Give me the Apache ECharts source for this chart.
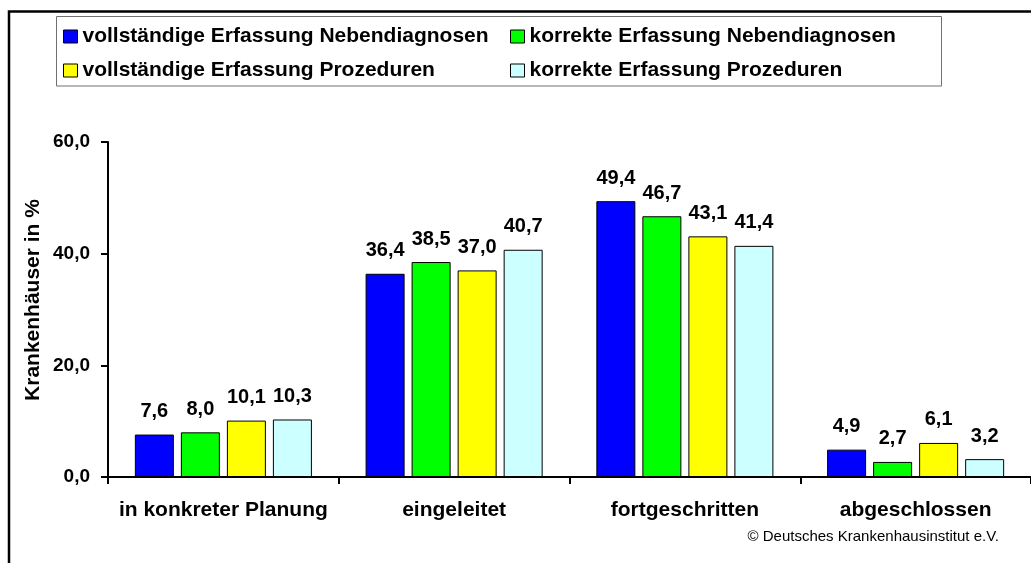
<!DOCTYPE html>
<html>
<head>
<meta charset="utf-8">
<script src="https://cdn.jsdelivr.net/npm/echarts@6/dist/echarts.min.js"></script>
<style>
  html, body { margin: 0; padding: 0; background: #fff; }
  #chart { width: 1031px; height: 563px; }
</style>
</head>
<body>
<div id="chart"></div>
<script>
// Stand der Umsetzung, Anteil der Krankenhäuser in %
const categories = ['in konkreter Planung', 'eingeleitet', 'fortgeschritten', 'abgeschlossen'];
const seriesNames = [
  'vollständige Erfassung Nebendiagnosen',
  'korrekte Erfassung Nebendiagnosen',
  'vollständige Erfassung Prozeduren',
  'korrekte Erfassung Prozeduren'
];
const vollNebendiagnosen = [7.6, 36.4, 49.4, 4.9];
const korrektNebendiagnosen = [8.0, 38.5, 46.7, 2.7];
const vollProzeduren = [10.1, 37.0, 43.1, 6.1];
const korrektProzeduren = [10.3, 40.7, 41.4, 3.2];
const yTicks = [0, 20, 40, 60];
const yTitle = 'Krankenhäuser in %';

const colors = ['#0000FF', '#00FF00', '#FFFF00', '#CCFFFF'];
const FONT = 'Liberation Sans, Arial, sans-serif';
const fmt = v => v.toFixed(1).replace('.', ',');

const values = [vollNebendiagnosen, korrektNebendiagnosen, vollProzeduren, korrektProzeduren];

const chart = echarts.init(document.getElementById('chart'), null, { renderer: 'canvas' });

const series = values.map((data, i) => ({
  name: seriesNames[i],
  type: 'bar',
  data: data,
  barWidth: 39,
  barGap: '18%',
  itemStyle: { color: colors[i], borderColor: '#000', borderWidth: 1 },
  label: {
    show: true,
    position: 'top',
    distance: 13,
    formatter: p => fmt(p.value),
    fontFamily: FONT,
    fontWeight: 'bold',
    fontSize: 20,
    color: '#000'
  },
  emphasis: { disabled: true }
}));

const legendText = { fontFamily: FONT, fontWeight: 'bold', fontSize: 21, color: '#000' };
const legendCommon = {
  orient: 'vertical',
  top: 26,
  icon: 'rect',
  itemWidth: 14,
  itemHeight: 13,
  itemGap: 13,
  padding: 0,
  textStyle: legendText,
  selectedMode: false,
  itemStyle: { borderColor: '#000', borderWidth: 1 }
};

chart.setOption({
  animation: false,
  backgroundColor: '#fff',
  color: colors,
  legend: [
    Object.assign({}, legendCommon, { left: 63, data: [seriesNames[0], seriesNames[2]] }),
    Object.assign({}, legendCommon, { left: 510, data: [seriesNames[1], seriesNames[3]] })
  ],
  grid: { left: 108, right: -7, top: 142, bottom: 86, containLabel: false },
  xAxis: {
    type: 'category',
    data: categories,
    axisLine: { lineStyle: { color: '#000', width: 2 } },
    axisTick: { show: true, interval: 0, length: 7, lineStyle: { color: '#000', width: 2 } },
    axisLabel: {
      interval: 0,
      margin: 23,
      fontFamily: FONT,
      fontWeight: 'bold',
      fontSize: 21,
      color: '#000'
    }
  },
  yAxis: {
    type: 'value',
    min: 0,
    max: 60,
    interval: 20,
    axisLine: { show: true, lineStyle: { color: '#000', width: 2 } },
    axisTick: { show: true, length: 7, inside: false, lineStyle: { color: '#000', width: 2 } },
    splitLine: { show: false },
    axisLabel: {
      margin: 18,
      formatter: v => (yTicks.indexOf(v) >= 0 ? fmt(v) : ''),
      fontFamily: FONT,
      fontWeight: 'bold',
      fontSize: 19,
      color: '#000'
    }
  },
  graphic: [
    {
      type: 'polyline',
      shape: { points: [[9, 563], [9, 11.5], [1031, 11.5]] },
      style: { stroke: '#000', lineWidth: 2.5, fill: null },
      silent: true
    },
    {
      type: 'rect',
      shape: { x: 56.5, y: 16.5, width: 885, height: 69.5 },
      style: { stroke: '#707070', lineWidth: 1, fill: null },
      silent: true,
      z: -1
    },
    {
      // rotated y-axis title
      type: 'text',
      x: 33,
      y: 300,
      rotation: Math.PI / 2,
      style: {
        text: yTitle,
        fontFamily: FONT,
        fontWeight: 'bold',
        fontSize: 21,
        fill: '#000',
        align: 'center',
        verticalAlign: 'middle'
      },
      silent: true
    },
    {
      type: 'text',
      right: 32,
      top: 529,
      style: {
        text: '© Deutsches Krankenhausinstitut e.V.',
        fontFamily: FONT,
        fontSize: 15,
        fill: '#000'
      },
      silent: true
    }
  ],
  series: series
});
</script>
</body>
</html>
